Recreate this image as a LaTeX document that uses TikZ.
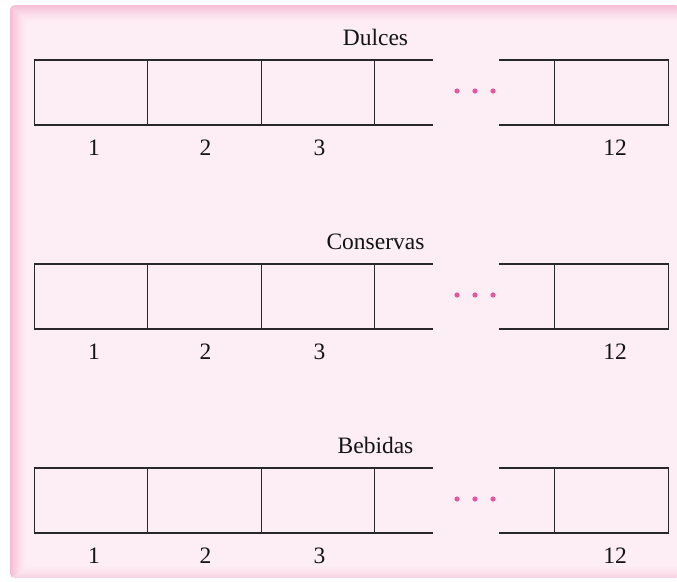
\documentclass[tikz,border=0pt]{standalone}
\usepackage{fontspec}
\setmainfont{Liberation Serif}
\definecolor{panelbg}{RGB}{253,237,244}
\definecolor{paneledge}{RGB}{246,188,212}
\definecolor{dotpink}{RGB}{233,85,155}
\definecolor{linegray}{RGB}{40,40,40}
\begin{document}
\begin{tikzpicture}[x=1pt,y=-1pt,
  cell/.style={draw=linegray,line width=1.3pt,minimum width=113.5pt,minimum height=65pt,inner sep=0pt,outer sep=0pt},
  rule/.style={draw=linegray,line width=1.3pt},
  caption/.style={anchor=base,inner sep=0pt,font=\fontsize{23.5}{27}\selectfont,text=black!92},
  dotmark/.style={fill=dotpink}]
\useasboundingbox (0,0) rectangle (677,581);
% panel with soft edges built from thin tinted bands
\begin{scope}
  \clip[rounded corners=5pt] (10,5) rectangle (680,578);
  \fill[panelbg] (10,5) rectangle (680,578);
  \foreach \i in {0,...,17}{
    \pgfmathsetmacro{\p}{100*(1-\i/18)^1.6}
    \fill[paneledge!\p!panelbg] (10,5+\i) rectangle (680,6+\i);
  }
  \foreach \i in {0,...,11}{
    \pgfmathsetmacro{\p}{55*(1-\i/12)^1.6}
    \fill[paneledge!\p!panelbg] (10,577-\i) rectangle (680,578-\i);
  }
  \foreach \i in {0,...,17}{
    \pgfmathsetmacro{\p}{100*(1-\i/18)^1.6}
    \fill[paneledge!\p!panelbg] (10+\i,5+\i) rectangle (11+\i,578-\i*0.6);
  }
\end{scope}
\foreach \r/\name/\title in {0/a/Dulces,1/b/Conservas,2/c/Bebidas}{
  \pgfmathsetmacro{\top}{60+204*\r}
  \node[caption] (\name t) at (375.5,\top-15) {\title};
  \node[cell] (\name1) at (91,\top+32.5) {};
  \node[cell] (\name2) at (204.5,\top+32.5) {};
  \node[cell] (\name3) at (318,\top+32.5) {};
  \node[cell] (\name12) at (611.5,\top+32.5) {};
  \coordinate (\name ut) at (433,\top);
  \coordinate (\name ub) at (433,\top+65);
  \coordinate (\name vt) at (499,\top);
  \coordinate (\name vb) at (499,\top+65);
  \draw[rule] (\name3.north east) -- (\name ut);
  \draw[rule] (\name3.south east) -- (\name ub);
  \draw[rule] (\name vt) -- (\name12.north west);
  \draw[rule] (\name vb) -- (\name12.south west);
  \foreach \x in {457,475,493}{
    \fill[dotmark] (\x,\top+31) circle (2.6pt);
  }
  \node[caption] (\name n1) at (94,\top+95) {1};
  \node[caption] (\name n2) at (205.5,\top+95) {2};
  \node[caption] (\name n3) at (319.5,\top+95) {3};
  \node[caption] (\name n12) at (615,\top+95) {12};
}
\end{tikzpicture}
\end{document}
